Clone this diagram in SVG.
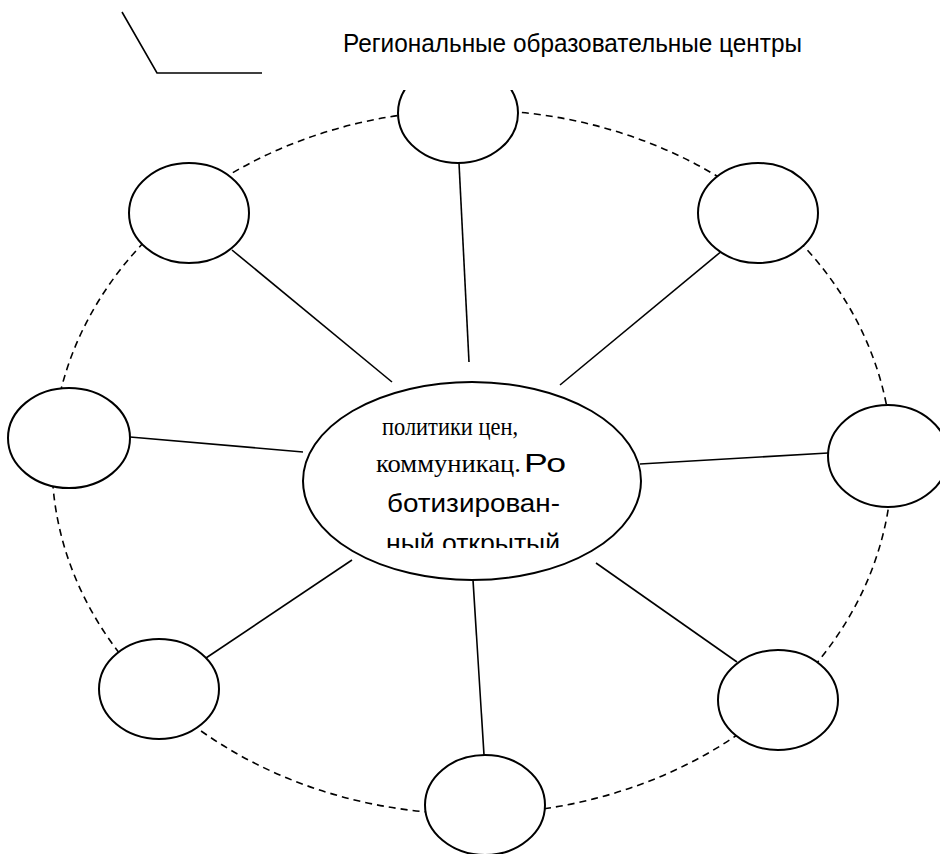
<svg xmlns="http://www.w3.org/2000/svg" width="940" height="854" viewBox="0 0 940 854">
<style>
.node{fill:#fff;stroke:#000;stroke-width:2}
.conn{stroke:#000;stroke-width:1.6;fill:none}
.dash{stroke:#000;stroke-width:1.6;fill:none;stroke-dasharray:7 5}
.serif{font-family:"Liberation Serif","Times New Roman",serif;font-size:25px;fill:#000}
.sans{font-family:"Liberation Sans",Arial,sans-serif;font-size:26px;fill:#000}
</style>
<defs>
<clipPath id="topclip"><rect x="0" y="90" width="940" height="764"/></clipPath>
<clipPath id="textclip"><rect x="0" y="0" width="940" height="548"/></clipPath>
</defs>
<rect width="940" height="854" fill="#fff"/>
<g id="legend">
<polyline class="conn" points="122,12 157,73 262,73"/>
<text class="sans" x="343" y="52" font-size="25" textLength="459" lengthAdjust="spacingAndGlyphs">Региональные образовательные центры</text>
</g>
<g id="ring">
<ellipse class="dash" cx="472" cy="462" rx="420" ry="352"/>
</g>
<g id="connectors">
<line class="conn" x1="459" y1="163" x2="469" y2="362"/>
<line class="conn" x1="232" y1="250" x2="392" y2="382"/>
<line class="conn" x1="723" y1="250" x2="560" y2="385"/>
<line class="conn" x1="130" y1="437" x2="303" y2="452"/>
<line class="conn" x1="828" y1="453" x2="640" y2="464"/>
<line class="conn" x1="203" y1="660" x2="352" y2="560"/>
<line class="conn" x1="737" y1="662" x2="596" y2="563"/>
<line class="conn" x1="484" y1="755" x2="473" y2="580"/>
</g>
<g id="n-top" clip-path="url(#topclip)"><ellipse class="node" cx="458" cy="113" rx="60" ry="50"/></g>
<g id="n-topleft"><ellipse class="node" cx="189" cy="213" rx="60" ry="50"/></g>
<g id="n-topright"><ellipse class="node" cx="758" cy="213" rx="60" ry="50"/></g>
<g id="n-left"><ellipse class="node" cx="69" cy="438" rx="61" ry="50"/></g>
<g id="n-right"><ellipse class="node" cx="888" cy="456" rx="60" ry="51"/></g>
<g id="n-bottomleft"><ellipse class="node" cx="159" cy="689" rx="60" ry="50"/></g>
<g id="n-bottomright"><ellipse class="node" cx="778" cy="700" rx="60" ry="50"/></g>
<g id="n-bottom"><ellipse class="node" cx="485" cy="805" rx="60" ry="50"/></g>
<g id="n-center">
<ellipse class="node" cx="472" cy="481" rx="169" ry="99"/>
<g clip-path="url(#textclip)">
<text class="serif" x="382" y="435" textLength="136" lengthAdjust="spacingAndGlyphs">политики цен,</text>
<text class="serif" x="376" y="472" textLength="145" lengthAdjust="spacingAndGlyphs">коммуникац.</text>
<text class="sans" x="524" y="472" textLength="42" lengthAdjust="spacingAndGlyphs">Ро</text>
<text class="sans" x="387" y="512" textLength="173" lengthAdjust="spacingAndGlyphs">ботизирован-</text>
<text class="sans" x="386" y="552" textLength="174" lengthAdjust="spacingAndGlyphs">ный открытый</text>
</g>
</g>
</svg>
